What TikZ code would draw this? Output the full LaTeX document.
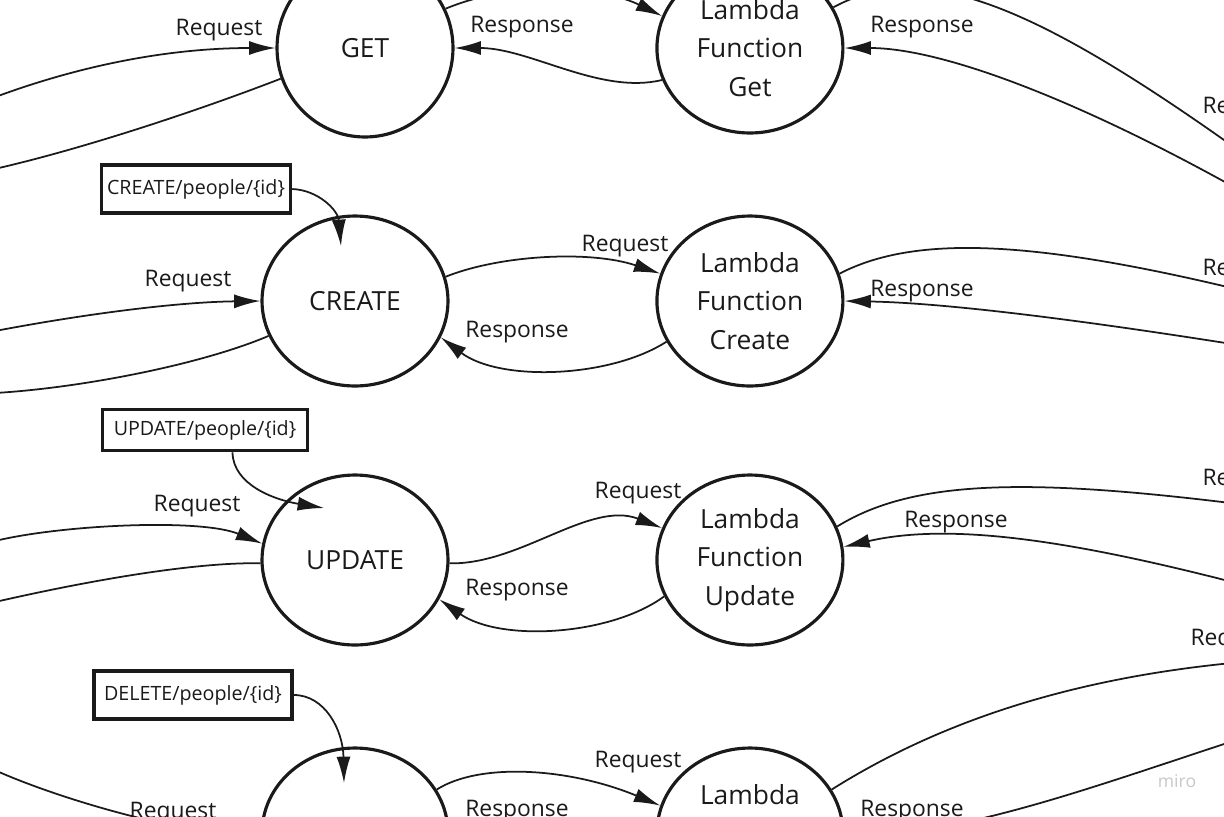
\documentclass[tikz,border=0pt]{standalone}
\usepackage{fontspec}
\setmainfont{Open Sans}
\usetikzlibrary{positioning,shapes.geometric,arrows.meta}
\definecolor{ink}{HTML}{1A1A1A}

\begin{document}
\begin{tikzpicture}[x=0.02cm, y=-0.02cm, on grid, semithick,
  >={Latex[length=15pt,width=8pt]},
  flow/.style={draw=ink, line width=1pt},
  method/.style={ellipse, draw=ink, line width=1.8pt, inner sep=0pt,
    minimum width=3.72cm, minimum height=3.4cm, text=ink,
    font=\fontsize{15}{22}\selectfont, align=center},
  lambda/.style={method},
  route/.style={rectangle, draw=ink, line width=2pt, inner sep=0pt,
    text=ink, font=\fontsize{11.2}{13}\selectfont},
  lbl/.style={text=ink, font=\fontsize{13}{15}\selectfont, inner sep=0pt}
]
\useasboundingbox (0,0) rectangle (1224,816);
\clip (0,0) rectangle (1224,816);

% method nodes and their lambdas
\node[method, minimum width=3.52cm, minimum height=3.56cm] (GET) at (365,48) {GET};
\node[lambda, right=7.7cm of GET] (LG) {Lambda\\Function\\Get};
\node[method] (CREATE) at (355,301) {CREATE};
\node[lambda, right=7.9cm of CREATE] (LC) {Lambda\\Function\\Create};
\node[method] (UPDATE) at (355,560) {UPDATE};
\node[lambda, right=7.9cm of UPDATE] (LU) {Lambda\\Function\\Update};
\node[method] (DELETE) at (355,833) {};
\node[lambda, right=7.9cm of DELETE] (LD) {Lambda\\~\\~};

% routes
\node[route, minimum width=3.78cm, minimum height=0.96cm] (crbox) at (196,189) {CREATE/people/\{id\}};
\node[route, minimum width=4.1cm, minimum height=0.82cm] (upbox) at (205,430) {UPDATE/people/\{id\}};
\node[route, minimum width=3.96cm, minimum height=0.96cm] (debox) at (193,695) {DELETE/people/\{id\}};

% loose ends
\coordinate (getin) at (-10,99);
\coordinate (getout) at (-10,170);
\coordinate (lgout) at (1300,195);
\coordinate (lgresp) at (1300,225);
\coordinate (crtip) at (341,246);
\coordinate (crin) at (-5,331);
\coordinate (crout) at (-5,393);
\coordinate (lcout) at (1300,305);
\coordinate (lcresp) at (1300,355);
\coordinate (uptip) at (324,508);
\coordinate (upin) at (-5,541);
\coordinate (upout) at (-5,602);
\coordinate (luout) at (1300,512);
\coordinate (luresp) at (1300,600);
\coordinate (detip) at (344,783);
\coordinate (dein) at (-10,768);
\coordinate (ldout) at (1300,658);
\coordinate (ldresp) at (1300,720);

% GET
\draw[flow,->] (getin) .. controls (80,65) and (170,48) .. (GET.west);
\draw[flow] (GET.200) .. controls (200,110) and (80,150) .. (getout);
\draw[flow,->] (GET.26) .. controls (520,-22) and (605,-12) .. (LG.160);
\draw[flow,->] (LG.200) .. controls (600,95) and (530,48) .. (GET.east);
\draw[flow] (LG.26) .. controls (930,-45) and (1050,10) .. (lgout);
\draw[flow,->] (lgresp) .. controls (1110,112) and (950,48) .. (LG.east);

% CREATE
\draw[flow,->] (crbox.east) .. controls (318,190) and (338,210) .. (crtip);
\draw[flow,->] (crin) .. controls (90,313) and (180,302) .. (CREATE.west);
\draw[flow] (CREATE.202) .. controls (200,365) and (80,388) .. (crout);
\draw[flow,->] (CREATE.15) .. controls (500,255) and (590,250) .. (LC.163);
\draw[flow,->] (LC.206) .. controls (610,378) and (500,382) .. (CREATE.-23);
\draw[flow] (LC.17) .. controls (920,232) and (1050,240) .. (lcout);
\draw[flow,->] (lcresp) .. controls (1100,322) and (950,303) .. (LC.east);

% UPDATE
\draw[flow,->] ([xshift=0.55cm]upbox.south) .. controls (233,485) and (275,500) .. (uptip);
\draw[flow,->] (upin) .. controls (60,525) and (200,518) .. (UPDATE.170);
\draw[flow] (UPDATE.182) .. controls (200,562) and (100,578) .. (upout);
\draw[flow,->] (UPDATE.-2) .. controls (520,565) and (590,500) .. (LU.160);
\draw[flow,->] (LU.203) .. controls (610,636) and (500,642) .. (UPDATE.-25);
\draw[flow] (LU.21) .. controls (920,475) and (1050,478) .. (luout);
\draw[flow,->] (luresp) .. controls (1100,545) and (960,520) .. (LU.8);

% DELETE
\draw[flow,->] (debox.east) .. controls (325,695) and (343,730) .. (detip);
\draw[flow,->] (dein) .. controls (60,800) and (180,833) .. (DELETE.west);
\draw[flow,->] (DELETE.28) .. controls (480,762) and (570,768) .. (LD.163);
\draw[flow] (LD.28) .. controls (950,715) and (1100,668) .. (ldout);
\draw[flow,->] (ldresp) .. controls (1150,765) and (980,835) .. (LD.east);

% labels
\node[lbl] (l1) at (219,30) {Request};
\node[lbl] (l2) at (522,27) {Response};
\node[lbl] (l3) at (922,27) {Response};
\node[lbl, anchor=west] (l4) at (1202,108) {Request};
\node[lbl] (l5) at (188,281) {Request};
\node[lbl] (l6) at (625,246) {Request};
\node[lbl] (l7) at (517,332) {Response};
\node[lbl] (l8) at (922,291) {Response};
\node[lbl, anchor=west] (l9) at (1202,270) {Request};
\node[lbl] (l10) at (197,506) {Request};
\node[lbl] (l11) at (638,493) {Request};
\node[lbl] (l12) at (517,590) {Response};
\node[lbl] (l13) at (956,522) {Response};
\node[lbl, anchor=west] (l14) at (1202,480) {Request};
\node[lbl] (l15) at (173,813) {Request};
\node[lbl] (l16) at (638,762) {Request};
\node[lbl] (l17) at (517,811) {Response};
\node[lbl] (l18) at (912,811) {Response};
\node[lbl, anchor=west] (l19) at (1190,640) {Request};
\node[text=black!22, font=\fontsize{10}{12}\selectfont] (wm) at (1177,781) {miro};
\end{tikzpicture}
\end{document}
